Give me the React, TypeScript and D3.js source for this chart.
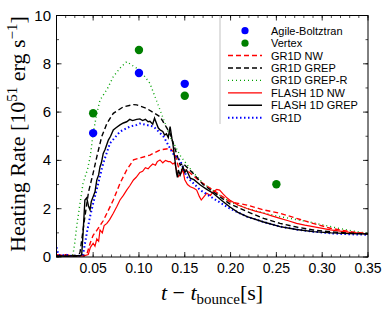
import React from "react";
import * as d3 from "d3";

type P = [number, number];

const agile: P[] = [[0.05, 5.13], [0.10, 7.62], [0.15, 7.17]];
const vertex: P[] = [[0.05, 5.95], [0.10, 8.57], [0.15, 6.68], [0.25, 3.01]];

const gr1dNw: P[] = [[0.01,0.05],[0.02,0.1],[0.03,0.05],[0.04,0.05],[0.043,0.1],[0.047,0.6],[0.05,0.9],[0.054,1.1],[0.0575,1.3],[0.061,1.5],[0.065,1.81],[0.072,2.36],[0.0793,3.05],[0.0866,3.6],[0.094,4.02],[0.101,4.1],[0.112,4.22],[0.123,4.43],[0.134,4.5],[0.139,4.3],[0.143,3.74],[0.147,3.6],[0.152,3.6],[0.167,3.12],[0.181,2.77],[0.199,2.29],[0.218,2.15],[0.236,1.95],[0.254,1.81],[0.272,1.6],[0.29,1.39],[0.309,1.19],[0.33,1.05],[0.35,0.96]];

const gr1dGrep: P[] = [[0.01,0.02],[0.03,0.02],[0.034,0.05],[0.0357,0.2],[0.0375,0.7],[0.041,1.67],[0.045,2.7],[0.05,3.47],[0.054,4.15],[0.0593,4.98],[0.065,5.53],[0.072,5.95],[0.083,6.22],[0.094,6.31],[0.0975,6.3],[0.108,6.16],[0.123,5.81],[0.134,5.12],[0.141,4.29],[0.145,3.8],[0.148,3.88],[0.159,3.47],[0.17,3.0],[0.181,2.7],[0.199,2.2],[0.218,1.88],[0.236,1.6],[0.254,1.39],[0.272,1.24],[0.29,1.12],[0.31,1.04],[0.33,0.99],[0.35,0.96]];

const gr1dGrepR: P[] = [[0.01,0.05],[0.02,0.03],[0.026,0.05],[0.028,0.1],[0.03,0.6],[0.032,1.26],[0.0357,2.23],[0.039,3.05],[0.044,3.65],[0.047,4.2],[0.05,5.12],[0.054,5.95],[0.0575,6.5],[0.061,6.7],[0.066,7.0],[0.072,7.47],[0.08,7.85],[0.0866,8.09],[0.094,7.9],[0.101,7.74],[0.112,7.19],[0.123,6.09],[0.134,4.98],[0.145,4.2],[0.159,3.5],[0.17,3.05],[0.185,2.64],[0.199,2.29],[0.218,2.01],[0.236,1.82],[0.254,1.67],[0.272,1.55],[0.285,1.46],[0.31,1.25],[0.33,1.1],[0.35,0.98]];

const flash1dNw: P[] = [[0.01,0.1],[0.02,0.05],[0.03,0.05],[0.04,0.05],[0.0447,0.1],[0.047,0.4],[0.05,0.57],[0.052,0.45],[0.054,0.75],[0.056,0.65],[0.0575,1.12],[0.06,1.0],[0.062,1.3],[0.065,1.39],[0.068,1.55],[0.072,1.81],[0.076,2.1],[0.0793,2.36],[0.083,2.55],[0.0866,2.77],[0.09,2.95],[0.094,3.19],[0.097,3.3],[0.101,3.5],[0.104,3.55],[0.107,3.7],[0.11,3.65],[0.112,3.74],[0.115,3.85],[0.118,3.8],[0.12,3.95],[0.123,4.02],[0.126,3.9],[0.129,4.0],[0.132,3.95],[0.134,3.95],[0.137,3.85],[0.139,3.9],[0.141,3.6],[0.143,3.33],[0.145,3.4],[0.148,3.6],[0.15,3.2],[0.153,3.0],[0.156,2.91],[0.16,2.85],[0.163,2.77],[0.166,2.5],[0.168,2.36],[0.171,2.5],[0.174,2.64],[0.178,2.55],[0.181,2.7],[0.185,2.8],[0.188,2.77],[0.192,2.6],[0.196,2.45],[0.199,2.36],[0.208,2.15],[0.218,2.01],[0.227,1.9],[0.236,1.81],[0.245,1.7],[0.254,1.6],[0.263,1.5],[0.272,1.39],[0.281,1.32],[0.29,1.26],[0.309,1.12],[0.33,1.02],[0.35,0.96]];

const flash1dGrep: P[] = [[0.01,0.05],[0.02,0.03],[0.03,0.05],[0.036,0.05],[0.0375,0.1],[0.039,0.98],[0.041,2.36],[0.043,2.45],[0.045,2.1],[0.0466,1.95],[0.048,2.3],[0.05,2.5],[0.052,2.7],[0.054,3.19],[0.056,3.4],[0.0575,3.74],[0.059,3.9],[0.061,4.29],[0.063,4.45],[0.0666,4.84],[0.069,5.0],[0.072,5.26],[0.075,5.35],[0.0793,5.47],[0.083,5.55],[0.0866,5.6],[0.09,5.7],[0.093,5.65],[0.0975,5.7],[0.101,5.72],[0.104,5.65],[0.107,5.7],[0.11,5.6],[0.112,5.62],[0.115,5.5],[0.117,5.75],[0.119,5.55],[0.121,5.35],[0.123,5.26],[0.126,5.2],[0.128,5.05],[0.13,5.1],[0.132,4.95],[0.134,5.4],[0.136,4.9],[0.137,4.7],[0.139,4.1],[0.141,3.47],[0.142,3.3],[0.143,3.6],[0.145,3.4],[0.148,3.74],[0.15,3.5],[0.152,3.6],[0.156,3.26],[0.16,3.2],[0.167,2.98],[0.174,2.8],[0.181,2.64],[0.19,2.35],[0.199,2.08],[0.208,1.85],[0.218,1.67],[0.236,1.45],[0.254,1.26],[0.272,1.14],[0.29,1.05],[0.31,1.0],[0.33,0.97],[0.35,0.95]];

const gr1d: P[] = [[0.01,0.4],[0.012,0.1],[0.015,0.05],[0.02,0.1],[0.025,0.05],[0.03,0.05],[0.035,0.05],[0.039,0.1],[0.043,0.98],[0.0466,1.67],[0.05,2.22],[0.0556,3.05],[0.061,3.88],[0.0684,4.71],[0.0793,5.19],[0.09,5.4],[0.0975,5.47],[0.101,5.53],[0.116,5.4],[0.127,4.98],[0.137,4.29],[0.145,4.0],[0.152,3.33],[0.167,2.77],[0.181,2.43],[0.199,2.01],[0.218,1.67],[0.236,1.45],[0.254,1.26],[0.272,1.14],[0.29,1.05],[0.31,0.98],[0.33,0.94],[0.35,0.92]];

const xTickLabels = ["0.05", "0.10", "0.15", "0.20", "0.25", "0.30", "0.35"];
const yTickLabels = ["0", "2", "4", "6", "8", "10"];

const legendNames = ["Agile-Boltztran", "Vertex", "GR1D NW", "GR1D GREP", "GR1D GREP-R", "FLASH 1D NW", "FLASH 1D GREP", "GR1D"];

const L = 56.5, R = 368, T = 15.5, B = 257;

export default function App() {
  const x = d3.scaleLinear().domain([0.01, 0.35]).range([L, R]);
  const y = d3.scaleLinear().domain([0, 10]).range([B, T]);
  const line = d3.line<P>().x(d => x(d[0])).y(d => y(d[1]));

  const series = [
    { data: gr1dGrepR, color: "#00a000", dash: "1,3", w: 1.4 },
    { data: gr1dNw, color: "#ff0000", dash: "5,3", w: 1.4 },
    { data: flash1dNw, color: "#ff0000", dash: "", w: 1.2 },
    { data: gr1d, color: "#0000ff", dash: "1.5,2.5", w: 2 },
    { data: gr1dGrep, color: "#000000", dash: "5,3", w: 1.4 },
    { data: flash1dGrep, color: "#000000", dash: "", w: 1.4 },
  ];

  const xMinor = d3.range(1, 36).map(i => i / 100);
  const xMajor = xTickLabels.map(Number);
  const yMinor = d3.range(0, 11);
  const yMajor = yTickLabels.map(Number);

  const legendStyles = [
    { type: "dot", color: "#0000ff" },
    { type: "dot", color: "#008000" },
    { type: "line", color: "#ff0000", dash: "5,3", w: 1.4 },
    { type: "line", color: "#000000", dash: "5,3", w: 1.4 },
    { type: "line", color: "#00a000", dash: "1,3", w: 1.4 },
    { type: "line", color: "#ff0000", dash: "", w: 1.4 },
    { type: "line", color: "#000000", dash: "", w: 1.4 },
    { type: "line", color: "#0000ff", dash: "1.5,2.5", w: 2 },
  ];

  return (
    <svg width={390} height={310} style={{ position: "absolute", left: 0, top: 0, background: "#fff" }}>
      <rect x={0} y={0} width={390} height={310} fill="#fff" />
      <defs>
        <clipPath id="clip"><rect x={L} y={T} width={R - L} height={B - T} /></clipPath>
      </defs>
      <g clipPath="url(#clip)">
        {series.map((s, i) => (
          <path key={i} d={line(s.data) || ""} fill="none" stroke={s.color} strokeWidth={s.w} strokeDasharray={s.dash} />
        ))}
      </g>
      {agile.map((d, i) => <circle key={"a" + i} cx={x(d[0])} cy={y(d[1])} r={4.2} fill="#0000ff" />)}
      {vertex.map((d, i) => <circle key={"v" + i} cx={x(d[0])} cy={y(d[1])} r={4.2} fill="#008000" />)}

      {/* frame */}
      <rect x={L} y={T} width={R - L} height={B - T} fill="none" stroke="#000" strokeWidth={1} />
      {xMinor.map((v, i) => (
        <g key={"xm" + i}>
          <line x1={x(v)} x2={x(v)} y1={B} y2={B - 2.5} stroke="#000" strokeWidth={0.7} />
          <line x1={x(v)} x2={x(v)} y1={T} y2={T + 2.5} stroke="#000" strokeWidth={0.7} />
        </g>
      ))}
      {xMajor.map((v, i) => (
        <g key={"xM" + i}>
          <line x1={x(v)} x2={x(v)} y1={B} y2={B - 5} stroke="#000" strokeWidth={0.8} />
          <line x1={x(v)} x2={x(v)} y1={T} y2={T + 5} stroke="#000" strokeWidth={0.8} />
          <text x={x(v)} y={273} textAnchor="middle" fontFamily="Liberation Sans, Arial, sans-serif" fontSize={14}>{xTickLabels[i]}</text>
        </g>
      ))}
      {yMinor.map((v, i) => (
        <g key={"ym" + i}>
          <line x1={L} x2={L + 2.5} y1={y(v)} y2={y(v)} stroke="#000" strokeWidth={0.7} />
          <line x1={R} x2={R - 2.5} y1={y(v)} y2={y(v)} stroke="#000" strokeWidth={0.7} />
        </g>
      ))}
      {yMajor.map((v, i) => (
        <g key={"yM" + i}>
          <line x1={L} x2={L + 5} y1={y(v)} y2={y(v)} stroke="#000" strokeWidth={0.8} />
          <line x1={R} x2={R - 5} y1={y(v)} y2={y(v)} stroke="#000" strokeWidth={0.8} />
          <text x={51} y={y(v) + 5} textAnchor="end" fontFamily="Liberation Sans, Arial, sans-serif" fontSize={15}>{yTickLabels[i]}</text>
        </g>
      ))}

      {/* legend */}
      <line x1={220} x2={220} y1={T} y2={124} stroke="#999" strokeWidth={0.6} />
      {legendNames.map((name, i) => {
        const ly = 30.7 + i * 12.43;
        const st = legendStyles[i];
        return (
          <g key={"lg" + i}>
            {st.type === "dot" ? (
              <circle cx={245} cy={ly} r={3.6} fill={st.color} />
            ) : (
              <line x1={228} x2={262} y1={ly} y2={ly} stroke={st.color} strokeWidth={st.w} strokeDasharray={st.dash} />
            )}
            <text x={271} y={ly + 4} fontFamily="Liberation Sans, Arial, sans-serif" fontSize={11}>{name}</text>
          </g>
        );
      })}

      {/* axis titles */}
      <text transform="translate(25,134) rotate(-90)" textAnchor="middle" fontFamily="Liberation Serif, DejaVu Serif, serif" fontSize={22}>
        Heating Rate [10<tspan fontSize={15} dy={-8}>51</tspan><tspan dy={8}> erg s</tspan><tspan fontSize={15} dy={-8}>−1</tspan><tspan dy={8}>]</tspan>
      </text>
      <text x={212} y={300} textAnchor="middle" fontFamily="Liberation Serif, DejaVu Serif, serif" fontSize={22}>
        <tspan fontStyle="italic">t</tspan> − <tspan fontStyle="italic">t</tspan><tspan fontSize={15} dy={4}>bounce</tspan><tspan dy={-4}>[s]</tspan>
      </text>
    </svg>
  );
}
